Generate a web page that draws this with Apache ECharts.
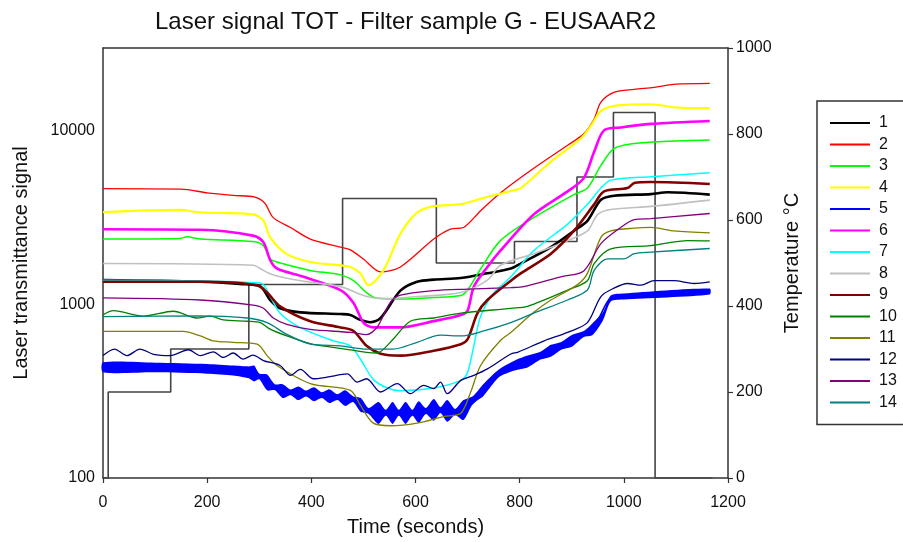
<!DOCTYPE html>
<html><head><meta charset="utf-8">
<script src="https://cdn.jsdelivr.net/npm/echarts@6/dist/echarts.min.js"></script>
<style>html,body{margin:0;padding:0;background:#fff}#c{width:903px;height:542px}</style>
</head><body><div id="c"></div>
<script>
// ---------- data ----------
const titleText = 'Laser signal TOT - Filter sample G - EUSAAR2';
const xTicks = [0, 200, 400, 600, 800, 1000, 1200];
const leftTicks = [100, 1000, 10000];
const rightTicks = [0, 200, 400, 600, 800, 1000];
const seriesNames = ['1','2','3','4','5','6','7','8','9','10','11','12','13','14'];

// temperature programme (right axis, °C)
const tempT = [0, 10, 130, 280, 460, 640, 790, 910, 980, 1060, 1170];
const tempV = [0, 200, 300, 450, 650, 500, 550, 700, 850, 0, 0];

const s1T = [0,187,263,302,321,340,379,456,475,494,513,533,571,603,635,687,738,783,802,860,904,930,956,981,1052,1084,1165];
const s1V = [1380,1350,1310,1266,1060,950,900,880,870,815,790,835,1200,1350,1390,1420,1510,1610,1720,2140,2650,3030,4010,4230,4320,4430,4290];

const s2T = [0,150,200,250,290,310,327,360,398,456,475,500,533,571,635,667,692,725,763,827,892,923,943,956,981,1020,1058,1096,1165];
const s2V = [4640,4620,4390,4245,4160,3850,3162,2773,2380,2136,2062,1825,1540,1644,2380,2715,2773,3467,4385,6080,8250,9620,11700,14620,16660,17330,17780,18500,18740];

const s3T = [0,148,161,187,288,308,321,334,398,456,481,506,526,571,635,687,700,725,763,827,904,930,956,981,1020,1084,1165];
const s3V = [2380,2400,2450,2380,2300,2180,1830,1755,1570,1480,1370,1170,1085,1075,1095,1125,1210,1600,2330,3160,4290,4680,6320,7900,8440,8700,8850];

const s4T = [0,148,187,288,308,321,353,398,456,475,494,510,539,571,603,635,687,731,783,802,860,917,937,956,988,1052,1103,1165];
const s4V = [3400,3500,3390,3300,3040,2434,1950,1755,1680,1644,1510,1290,1580,2550,3376,3680,3780,4110,4500,4680,6650,9000,10700,13000,14000,14230,13600,13500];

const s5T = [0,187,250,288,308,334,398,475,506,571,635,687,706,731,763,815,860,923,950,975,1007,1065,1165];
const s5V = [433,425,416,400,375,330,306,286,240,236,247,240,263,313,410,455,541,670,815,1090,1120,1160,1180];
// envelope of the oscillating signal 5
const s5BandT  = [0,100,200,250,280,290,300,315,330,345,360,375,390,405,420,435,450,465,480,495,510,529,543,556,568,581,594,606,620,635,648,661,676,692,710,730,760,790,815,840,860,880,900,923,940,960,975,1000,1165];
const s5BandHi = [464,462,454,444,439,444,400,395,347,347,324,337,319,333,312,324,304,320,296,289,253,274,247,274,247,274,247,277,253,285,256,281,250,281,296,347,422,474,507,534,585,608,667,703,780,901,1125,1155,1233];
const s5BandLo = [407,406,399,390,375,360,370,320,320,289,300,281,295,277,289,270,281,260,274,240,234,205,228,205,228,205,228,208,234,214,237,211,231,216,267,296,380,416,433,481,500,548,570,649,667,811,1040,1067,1140];

const s6T = [0,187,288,308,321,334,385,456,481,500,519,571,635,687,700,712,738,763,827,892,923,943,962,994,1052,1165];
const s6V = [2710,2690,2490,2280,1800,1610,1442,1210,1020,785,737,737,801,870,920,1266,1644,2040,3300,4480,5340,7570,10060,10460,10960,11400];

const s7T = [0,302,321,340,379,442,475,494,519,546,571,635,687,700,712,725,750,783,827,892,930,956,975,1052,1165];
const s7V = [1380,1330,1110,890,735,617,577,485,370,330,318,330,365,406,577,855,1160,1442,2040,2900,3770,4680,5200,5440,5730];

const s8T = [0,288,308,321,340,392,456,506,539,603,687,738,763,827,892,930,950,975,1052,1165];
const s8V = [1720,1680,1570,1500,1442,1350,1266,1110,1080,1110,1170,1380,1680,1960,2330,2650,3300,3520,3670,3990];

const s9T = [0,187,296,315,340,398,456,481,506,533,571,635,687,700,719,738,783,802,860,904,943,962,1007,1020,1052,1165];
const s9V = [1350,1350,1290,1170,975,800,737,703,577,520,507,541,590,630,890,1060,1370,1510,1960,2650,3770,4480,4680,5000,5070,4940];

const s10T = [0,20,77,135,180,206,231,277,302,321,353,398,442,506,526,557,590,635,687,783,815,892,930,943,975,1052,1123,1165];
const s10V = [870,920,855,913,835,855,815,800,785,720,658,595,565,530,525,630,800,835,890,950,975,1210,1370,1720,2090,2180,2330,2320];

const s11T = [0,154,187,212,250,296,315,334,398,475,494,519,552,603,654,687,706,725,763,783,827,860,911,930,956,975,1020,1052,1096,1165];
const s11V = [700,700,658,617,605,590,507,445,350,320,263,207,200,207,226,236,313,445,620,690,900,1060,1300,1510,2434,2650,2750,2775,2650,2580];

const s12T = [0,22,46,71,97,129,164,187,212,231,250,269,288,308,340,360,379,404,430,469,488,506,533,565,590,616,635,648,661,687,712,738,783,796,847,892,930,956,981,1007,1033,1058,1096,1135,1165];
const s12V = [507,553,507,553,516,507,548,507,533,495,525,484,511,475,445,390,422,373,381,398,357,373,313,350,306,342,327,357,306,365,390,425,518,530,617,690,785,1110,1240,1320,1290,1370,1370,1320,1350];

const s13T = [0,187,288,308,327,353,398,475,506,526,552,571,635,700,783,808,879,923,956,994,1020,1052,1165];
const s13V = [1090,1060,990,950,835,767,718,690,670,737,1030,1130,1200,1225,1250,1266,1442,1560,2240,2775,3080,3120,3340];

const s14T = [0,187,277,315,353,398,456,506,557,603,648,687,731,783,827,892,930,943,969,1000,1020,1052,1165];
const s14V = [850,860,835,785,672,590,577,553,553,605,665,658,703,785,890,1060,1210,1570,1830,1830,1960,2000,2100];

const colors = ['#000000','#ff0000','#00ff00','#ffff00','#0000ff','#ff00ff','#00ffff','#c0c0c0','#800000','#008000','#808000','#000080','#800080','#008080'];
const widths = [2.6,1.3,1.5,2.2,1.6,2.6,1.5,1.6,2.6,1.3,1.3,1.3,1.3,1.3];
const allT = [s1T,s2T,s3T,s4T,s5T,s6T,s7T,s8T,s9T,s10T,s11T,s12T,s13T,s14T];
const allV = [s1V,s2V,s3V,s4V,s5V,s6V,s7V,s8V,s9V,s10V,s11V,s12V,s13V,s14V];

// ---------- chart ----------
const FONT = 'Liberation Sans, Arial, sans-serif';
const chart = echarts.init(document.getElementById('c'), null, {renderer:'canvas'});
const zip = (t, v) => t.map((x, i) => [x, v[i]]);

const series = [];
series.push({
  type:'custom', name:'band5', silent:true, z:3, xAxisIndex:0, yAxisIndex:0,
  data:[[s5BandT[0], s5BandHi[0]]],
  renderItem: function (params, api) {
    const pts = [];
    for (let i = 0; i < s5BandT.length; i++) pts.push(api.coord([s5BandT[i], s5BandHi[i]]));
    for (let i = s5BandT.length - 1; i >= 0; i--) pts.push(api.coord([s5BandT[i], s5BandLo[i]]));
    return {type:'polygon', shape:{points:pts, smooth:0.25}, style:{fill:'#0000ff', stroke:null}};
  }
});
seriesNames.forEach((n, i) => {
  series.push({
    type:'line', name:n, data:zip(allT[i], allV[i]), xAxisIndex:0, yAxisIndex:0,
    symbol:'none', smooth:0.3, z:4,
    lineStyle:{color:colors[i], width:widths[i]}, itemStyle:{color:colors[i]}
  });
});
series.push({
  type:'line', name:'Temperature', data:zip(tempT, tempV), xAxisIndex:0, yAxisIndex:1,
  symbol:'none', step:'end', z:2,
  lineStyle:{color:'#444444', width:1.6}, itemStyle:{color:'#444444'}
});

chart.setOption({
  animation:false,
  backgroundColor:'#ffffff',
  title:{text:titleText, left:150, top:5,
    textStyle:{fontFamily:FONT, fontSize:24, fontWeight:'normal', color:'#111'}},
  legend:{
    data:seriesNames, orient:'vertical', left:817, top:101,
    padding:[14, 40, 14, 12], itemWidth:40, itemHeight:14, itemGap:5.5,
    borderColor:'#333', borderWidth:1.5, borderRadius:0,
    lineStyle:{width:2}, itemStyle:{opacity:0},
    textStyle:{fontFamily:FONT, fontSize:16, color:'#111', lineHeight:16, padding:[0,0,0,4]}
  },
  grid:{left:103, right:175, top:48, bottom:58},
  xAxis:[{
    type:'value', min:0, max:1200, interval:200,
    name:'Time (seconds)', nameLocation:'middle', nameGap:39,
    nameTextStyle:{fontFamily:FONT, fontSize:20, color:'#111'},
    axisLine:{show:true, onZero:false, lineStyle:{color:'#333', width:1.5}},
    axisTick:{show:true, inside:false, length:5, lineStyle:{color:'#333', width:1.2}},
    axisLabel:{fontFamily:FONT, fontSize:16, color:'#111', margin:17,
      formatter: v => (xTicks.indexOf(v) >= 0 ? String(v) : '')},
    splitLine:{show:false}
  },{
    type:'value', position:'top', min:0, max:1200,
    axisLine:{show:true, onZero:false, lineStyle:{color:'#333', width:1.5}},
    axisTick:{show:false}, axisLabel:{show:false}, splitLine:{show:false}
  }],
  yAxis:[{
    type:'log', logBase:10, min:100, max:30000, position:'left',
    name:'Laser transmittance signal', nameLocation:'middle', nameGap:72, nameRotate:90,
    nameTextStyle:{fontFamily:FONT, fontSize:20, color:'#111'},
    axisLine:{show:true, onZero:false, lineStyle:{color:'#333', width:1.5}},
    axisTick:{show:false},
    axisLabel:{fontFamily:FONT, fontSize:16, color:'#111', margin:8,
      formatter: v => (leftTicks.indexOf(Math.round(v)) >= 0 ? String(Math.round(v)) : '')},
    splitLine:{show:false}
  },{
    type:'value', min:0, max:1000, interval:200, position:'right',
    name:'Temperature °C', nameLocation:'middle', nameGap:33, nameRotate:90,
    nameTextStyle:{fontFamily:FONT, fontSize:20, color:'#111'},
    axisLine:{show:true, onZero:false, lineStyle:{color:'#333', width:1.5}},
    axisTick:{show:true, inside:false, length:5, lineStyle:{color:'#333', width:1.2}},
    axisLabel:{fontFamily:FONT, fontSize:16, color:'#111', margin:8,
      formatter: v => (rightTicks.indexOf(v) >= 0 ? String(v) : '')},
    splitLine:{show:false}
  }],
  series: series
});
</script>
</body></html>
